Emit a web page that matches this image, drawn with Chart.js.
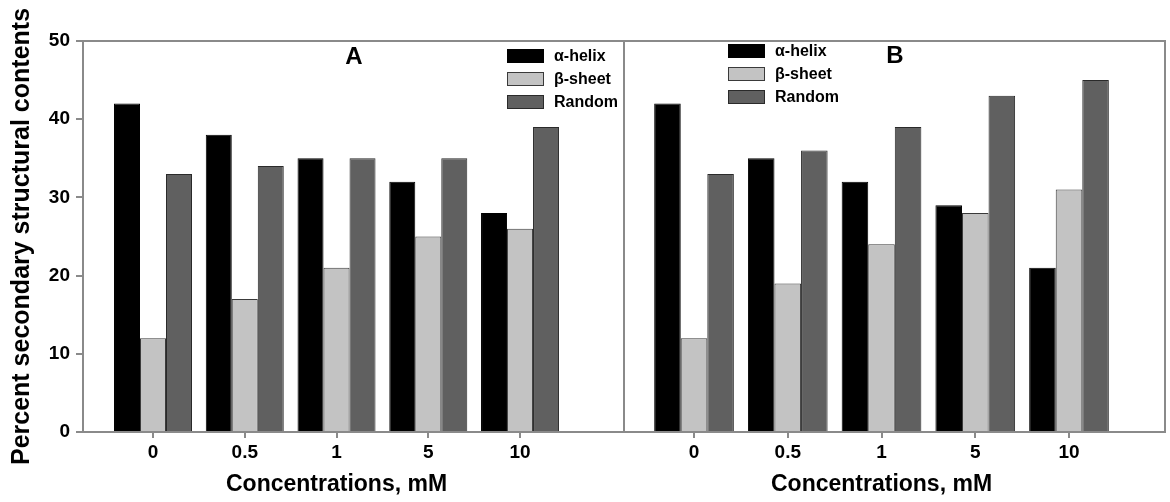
<!DOCTYPE html>
<html>
<head>
<meta charset="utf-8">
<script src="https://cdn.jsdelivr.net/npm/chart.js@4"></script>
<style>
  body { margin: 0; background: #fff; }
  #wrap { position: relative; width: 1170px; height: 502px; }
  canvas { position: absolute; top: 0; }
</style>
</head>
<body>
<div id="wrap">
  <canvas id="chart-a" width="625" height="502" style="left:0"></canvas>
  <canvas id="chart-b" width="546" height="502" style="left:624px"></canvas>
</div>
<script>
const concentrations = ["0", "0.5", "1", "5", "10"];
const seriesNames = ["\u03b1-helix", "\u03b2-sheet", "Random"];
const helixA = [42, 38, 35, 32, 28];
const sheetA = [12, 17, 21, 25, 26];
const randomA = [33, 34, 35, 35, 39];
const helixB = [42, 35, 32, 29, 21];
const sheetB = [12, 19, 24, 28, 31];
const randomB = [33, 36, 39, 43, 45];
const yTicks = [0, 10, 20, 30, 40, 50];

const FONT = "'Liberation Sans', Arial, sans-serif";
const fills = ["#000000", "#c3c3c3", "#606060"];
const edges = ["#000000", "#3a3a3a", "#2a2a2a"];
const frameColor = "#8a8a8a";

Chart.defaults.font.family = FONT;
Chart.defaults.color = "#000";

// frame, panel letter, legend and x title drawn on top of the bars
const panelDecor = {
  id: "panelDecor",
  afterDatasetsDraw(chart, args, opts) {
    const { ctx, chartArea: a } = chart;
    ctx.save();
    ctx.strokeStyle = frameColor;
    ctx.lineWidth = 2;
    ctx.strokeRect(a.left, a.top, a.right - a.left, a.bottom - a.top);

    ctx.fillStyle = "#000";
    ctx.textAlign = "center";
    ctx.textBaseline = "middle";
    ctx.font = `bold 24px ${FONT}`;
    ctx.fillText(opts.letter, opts.letterX, opts.letterY);

    ctx.font = `bold 23px ${FONT}`;
    ctx.fillText("Concentrations, mM", chart.scales.x.getPixelForValue(2), 485);

    ctx.font = `bold 16px ${FONT}`;
    ctx.textAlign = "left";
    chart.data.datasets.forEach((ds, i) => {
      const y = opts.legendY + i * 23;
      ctx.fillStyle = ds.backgroundColor;
      ctx.fillRect(opts.legendX, y, 37, 14);
      ctx.strokeStyle = ds.borderColor;
      ctx.lineWidth = 1;
      ctx.strokeRect(opts.legendX + 0.5, y + 0.5, 36, 13);
      ctx.fillStyle = "#000";
      ctx.fillText(ds.label, opts.legendX + 47, y + 8);
    });
    ctx.restore();
  },
};

function makePanel(id, series, cfg) {
  return new Chart(document.getElementById(id), {
    type: "bar",
    data: {
      datasets: series.map((vals, i) => ({
        label: seriesNames[i],
        data: vals.map((v, k) => ({ x: k, y: v })),
        backgroundColor: fills[i],
        borderColor: edges[i],
        borderWidth: 1,
        categoryPercentage: 0.85,
        barPercentage: 1,
      })),
    },
    options: {
      responsive: false,
      animation: false,
      layout: { padding: { top: 41, bottom: 0, left: 0, right: cfg.padRight } },
      plugins: {
        legend: { display: false },
        tooltip: { enabled: false },
        panelDecor: cfg.decor,
      },
      scales: {
        x: {
          type: "linear",
          min: cfg.xMin,
          max: cfg.xMax,
          offset: false,
          grid: { offset: false, drawOnChartArea: false, tickLength: 6, color: frameColor, lineWidth: 2 },
          border: { display: false },
          afterBuildTicks: (s) => { s.ticks = concentrations.map((c, k) => ({ value: k })); },
          afterFit: (s) => { s.height = 70; },
          ticks: {
            padding: 3,
            font: { size: 19, weight: "bold" },
            callback: (v) => concentrations[v],
          },
        },
        y: {
          display: cfg.showY,
          min: 0,
          max: 50,
          grid: { drawOnChartArea: false, tickLength: 7, color: frameColor, lineWidth: 2 },
          border: { display: false },
          afterBuildTicks: (s) => { s.ticks = yTicks.map((v) => ({ value: v })); },
          afterFit: (s) => { s.width = cfg.showY ? 83 : 0; },
          ticks: { padding: 6, font: { size: 19, weight: "bold" } },
          title: {
            display: true,
            text: "Percent secondary structural contents",
            font: { size: 25, weight: "bold" },
            padding: { top: 7, bottom: 0 },
          },
        },
      },
    },
    plugins: [panelDecor],
  });
}

makePanel("chart-a", [helixA, sheetA, randomA], {
  xMin: -0.763, xMax: 5.133, padRight: 1, showY: true,
  decor: { letter: "A", letterX: 354, letterY: 57, legendX: 507, legendY: 49 },
});
makePanel("chart-b", [helixB, sheetB, randomB], {
  xMin: -0.747, xMax: 5.024, padRight: 5, showY: false,
  decor: { letter: "B", letterX: 271, letterY: 56, legendX: 104, legendY: 44 },
});
</script>
</body>
</html>
